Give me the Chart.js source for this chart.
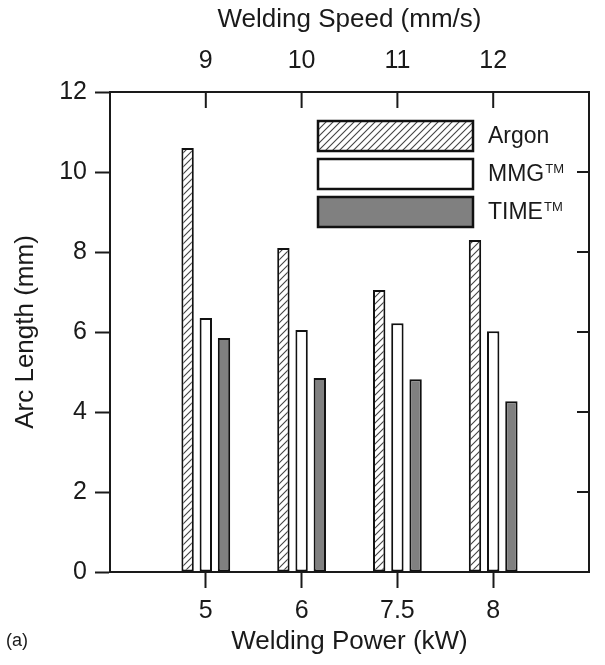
<!DOCTYPE html>
<html>
<head>
<meta charset="utf-8">
<script src="https://cdn.jsdelivr.net/npm/chart.js@4.4.0/dist/chart.umd.min.js"></script>
<style>
  html, body { margin: 0; padding: 0; background: #fff; }
  #wrap { width: 605px; height: 665px; }
</style>
</head>
<body>
<div id="wrap"><canvas id="arcChart"></canvas></div>
<script>
// values
const powerLabels = ["5", "6", "7.5", "8"];       // kW, bottom axis
const speedLabels = ["9", "10", "11", "12"];      // mm/s, top axis
const argon = [10.6, 8.1, 7.05, 8.3];
const mmg = [6.35, 6.05, 6.22, 6.02];
const time = [5.85, 4.85, 4.82, 4.27];
const seriesNames = ["Argon", "MMG™", "TIME™"];

const FONT = "'Liberation Sans', Arial, sans-serif";
const INK = "#1a1a1a";

// one empty slot each side, like the original axis
const pad = arr => [null, ...arr, null];
const padLabels = arr => ["", ...arr, ""];

function hatch() {
    const s = 7;
    const c = document.createElement("canvas");
    c.width = s;
    c.height = s;
    const g = c.getContext("2d");
    g.fillStyle = "#fff";
    g.fillRect(0, 0, s, s);
    g.strokeStyle = "#444";
    g.lineWidth = 1.1;
    g.beginPath();
    g.moveTo(0, s); g.lineTo(s, 0);
    g.moveTo(-1, 1); g.lineTo(1, -1);
    g.moveTo(s - 1, s + 1); g.lineTo(s + 1, s - 1);
    g.stroke();
    return g.createPattern(c, "repeat");
}

const hideEnds = ctx => (ctx.tick && ctx.tick.label !== "") ? INK : "rgba(0,0,0,0)";

// ticks that point into the plot (top and right axes), plus legend and panel tag
const framePlugin = {
    id: "frame",
    afterDraw(chart) {
        const { ctx, chartArea: ca, scales } = chart;
        ctx.save();
        ctx.strokeStyle = INK;
        ctx.lineWidth = 2;

        const top = scales.xTop;
        top.ticks.forEach((t, i) => {
            if (t.label === "") return;
            const x = top.getPixelForTick(i);
            ctx.beginPath();
            ctx.moveTo(x, ca.top);
            ctx.lineTo(x, ca.top + 16);
            ctx.stroke();
        });

        const right = scales.yRight;
        right.ticks.forEach((t, i) => {
            const y = right.getPixelForTick(i);
            ctx.beginPath();
            ctx.moveTo(ca.right, y);
            ctx.lineTo(ca.right - 12, y);
            ctx.stroke();
        });

        // legend
        const bx = ca.left + 208, bw = 155, bh = 30, pitch = 38;
        let by = ca.top + 29;
        chart.data.datasets.forEach(ds => {
            ctx.fillStyle = ds.backgroundColor;
            ctx.fillRect(bx, by, bw, bh);
            ctx.lineWidth = 2.5;
            ctx.strokeStyle = "#111";
            ctx.strokeRect(bx, by, bw, bh);

            const tx = bx + bw + 15, ty = by + bh / 2 + 1;
            ctx.fillStyle = INK;
            ctx.textBaseline = "middle";
            ctx.textAlign = "left";
            ctx.font = "23px " + FONT;
            let main = ds.label;
            let sup = "";
            if (main.endsWith("™")) {
                main = main.slice(0, -1);
                sup = "TM";
            }
            ctx.fillText(main, tx, ty);
            if (sup) {
                const w = ctx.measureText(main).width;
                ctx.font = "13px " + FONT;
                ctx.fillText(sup, tx + w + 1, ty - 6);
            }
            by += pitch;
        });

        ctx.font = "18px " + FONT;
        ctx.fillStyle = INK;
        ctx.textAlign = "left";
        ctx.textBaseline = "middle";
        ctx.fillText("(a)", 6, chart.height - 24);
        ctx.restore();
    }
};

const hatchFill = hatch();

new Chart(document.getElementById("arcChart"), {
    type: "bar",
    data: {
        labels: padLabels(powerLabels),
        datasets: [
            { label: seriesNames[0], data: pad(argon), backgroundColor: hatchFill },
            { label: seriesNames[1], data: pad(mmg), backgroundColor: "#ffffff" },
            { label: seriesNames[2], data: pad(time), backgroundColor: "#808080" }
        ]
    },
    options: {
        responsive: true,
        maintainAspectRatio: false,
        animation: false,
        layout: { padding: 0 },
        datasets: {
            bar: {
                borderColor: "#111",
                borderWidth: 2,
                borderSkipped: false,
                categoryPercentage: 0.57,
                barPercentage: 0.68
            }
        },
        plugins: {
            legend: { display: false },
            tooltip: { enabled: false }
        },
        scales: {
            x: {
                position: "bottom",
                offset: false,
                grid: { offset: false, drawOnChartArea: false, tickLength: 16, tickWidth: 2, tickColor: hideEnds },
                border: { display: true, color: INK, width: 2 },
                ticks: { color: INK, font: { family: FONT, size: 25 }, padding: 8, maxRotation: 0, autoSkip: false },
                title: { display: true, text: "Welding Power (kW)", color: INK, font: { family: FONT, size: 26 }, padding: { top: 0, bottom: 8 } },
                afterFit: s => { s.height = 93; }
            },
            xTop: {
                type: "category",
                position: "top",
                labels: padLabels(speedLabels),
                offset: false,
                grid: { offset: false, drawOnChartArea: false, drawTicks: false },
                border: { display: true, color: INK, width: 2 },
                ticks: { color: INK, font: { family: FONT, size: 25 }, padding: 16, maxRotation: 0, autoSkip: false },
                title: { display: true, text: "Welding Speed (mm/s)", color: INK, font: { family: FONT, size: 26 }, padding: { top: 4, bottom: 0 } },
                afterFit: s => { s.height = 92; }
            },
            y: {
                position: "left",
                min: 0,
                max: 12,
                ticks: { stepSize: 2, color: INK, font: { family: FONT, size: 25 }, padding: 8 },
                grid: { drawOnChartArea: false, tickLength: 15, tickWidth: 2, tickColor: INK },
                border: { display: true, color: INK, width: 2 },
                title: { display: true, text: "Arc Length (mm)", color: INK, font: { family: FONT, size: 26 }, padding: { top: 10, bottom: 0 } },
                afterFit: s => { s.width = 110; }
            },
            yRight: {
                position: "right",
                min: 0,
                max: 12,
                ticks: { display: false, stepSize: 2 },
                grid: { drawOnChartArea: false, drawTicks: false },
                border: { display: true, color: INK, width: 2 },
                afterFit: s => { s.width = 11; }
            }
        }
    },
    plugins: [framePlugin]
});
</script>
</body>
</html>
